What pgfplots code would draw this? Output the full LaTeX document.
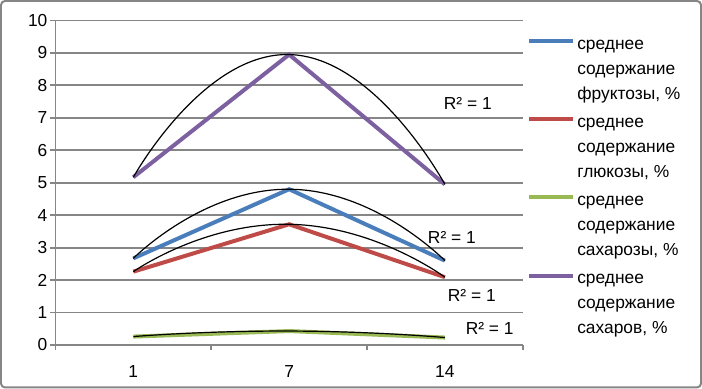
\documentclass[border=0pt]{standalone}
\usepackage{pgfplots}
\pgfplotsset{compat=1.18}
\usepackage{fontspec}
\setmainfont{Liberation Sans}
\definecolor{cblue}{HTML}{4A7EBB}
\definecolor{cred}{HTML}{BE4B48}
\definecolor{cgreen}{HTML}{98B954}
\definecolor{cpurple}{HTML}{7D60A0}
\definecolor{gridgray}{HTML}{868686}
\begin{document}
\begin{tikzpicture}
\begin{axis}[
  scale only axis, width=234pt, height=162.5pt,
  xmin=0.5, xmax=3.5, ymin=0, ymax=10,
  axis x line*=bottom, axis y line*=left,
  axis line style={draw=gridgray, line width=0.9pt},
  xtick={1,2,3}, xticklabels={1,7,14},
  major x tick style={draw=none},
  minor xtick={0.5,1.5,2.5,3.5},
  ytick={0,1,...,10},
  ymajorgrids, grid style={gridgray, line width=0.9pt},
  tick align=outside, major tick length=2.5pt, minor tick length=2.5pt,
  tick style={gridgray, line width=0.9pt},
  every tick label/.append style={font=\fontsize{8.7}{10}\selectfont, text=black},
  xticklabel style={yshift=-4pt},
  yticklabel style={xshift=2pt},
  /pgf/number format/assume math mode=true,
  clip=false,
  legend cell align=left,
  legend image code/.code={\draw[#1] (0pt,15pt) -- (22pt,15pt);},
  legend style={at={(1.009,0.948)}, anchor=north west, draw=none, fill=none,
    font=\fontsize{8.7}{12.5}\selectfont, row sep=6pt, inner sep=0pt,
    nodes={align=left, inner sep=1pt, text=black}},
]
\addplot[cblue, line width=2pt] coordinates {(1,2.67) (2,4.80) (3,2.60)};
\addlegendentry{среднее\\содержание\\фруктозы, \%}
\addplot[cred, line width=2pt] coordinates {(1,2.26) (2,3.72) (3,2.09)};
\addlegendentry{среднее\\содержание\\глюкозы, \%}
\addplot[cgreen, line width=2pt] coordinates {(1,0.26) (2,0.43) (3,0.23)};
\addlegendentry{среднее\\содержание\\сахарозы, \%}
\addplot[cpurple, line width=2pt] coordinates {(1,5.17) (2,8.95) (3,4.95)};
\addlegendentry{среднее\\содержание\\сахаров, \%}
% polynomial trendlines
\addplot[black, line width=0.6pt, smooth, tension=1, forget plot] coordinates {(1,2.67) (2,4.80) (3,2.60)};
\addplot[black, line width=0.6pt, smooth, tension=1, forget plot] coordinates {(1,2.26) (2,3.72) (3,2.09)};
\addplot[black, line width=0.6pt, smooth, tension=1, forget plot] coordinates {(1,0.26) (2,0.43) (3,0.23)};
\addplot[black, line width=0.6pt, smooth, tension=1, forget plot] coordinates {(1,5.17) (2,8.95) (3,4.95)};
\node[font=\fontsize{8.7}{10}\selectfont] at (axis cs:3.147,7.45) {R² = 1};
\node[font=\fontsize{8.7}{10}\selectfont] at (axis cs:3.045,3.32) {R² = 1};
\node[font=\fontsize{8.7}{10}\selectfont] at (axis cs:3.173,1.54) {R² = 1};
\node[font=\fontsize{8.7}{10}\selectfont] at (axis cs:3.288,0.52) {R² = 1};
\draw[gridgray, line width=1pt, rounded corners=2pt] (rel axis cs:-0.1165,-0.1308) rectangle (rel axis cs:1.3814,1.060);
\end{axis}
\end{tikzpicture}
\end{document}
